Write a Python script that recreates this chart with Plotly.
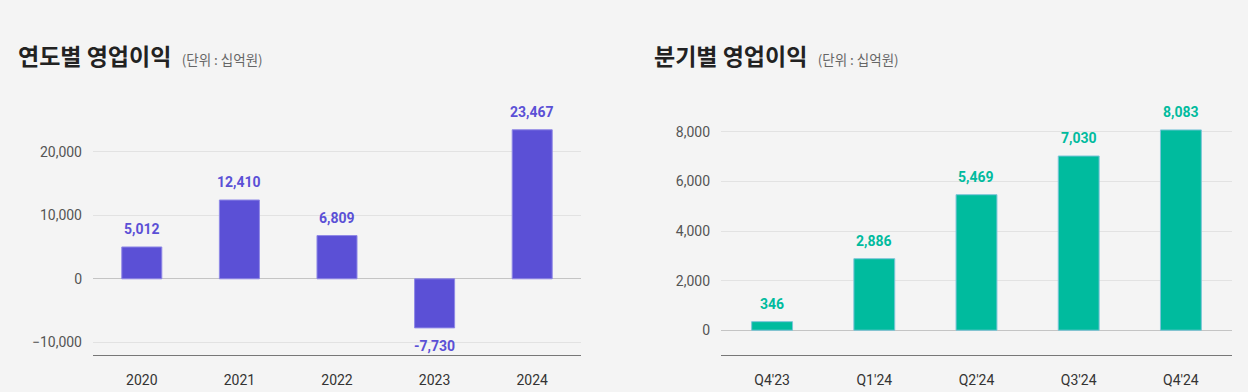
import plotly.graph_objects as go

years = ["2020", "2021", "2022", "2023", "2024"]
annual_profit = [5012, 12410, 6809, -7730, 23467]
quarters = ["Q4'23", "Q1'24", "Q2'24", "Q3'24", "Q4'24"]
quarterly_profit = [346, 2886, 5469, 7030, 8083]

left_ticks = [-10000, 0, 10000, 20000]
right_ticks = [0, 2000, 4000, 6000, 8000]

PURPLE = "#5b50d6"
TEAL = "#00bb9e"
BG = "#f4f4f4"

fig = go.Figure()
fig.add_trace(go.Bar(x=years, y=annual_profit, marker=dict(color=PURPLE, line=dict(color="#8f88e6", width=1)),
                     width=0.41, xaxis="x", yaxis="y", hoverinfo="skip"))
fig.add_trace(go.Bar(x=quarters, y=quarterly_profit, marker=dict(color=TEAL, line=dict(color="#7cc4d8", width=1)),
                     width=0.40, xaxis="x2", yaxis="y2", hoverinfo="skip"))

annotations = []
for i, v in enumerate(annual_profit):
    annotations.append(dict(x=i, y=v, xref="x", yref="y", text=f"{v:,}", showarrow=False,
                            yanchor="bottom" if v >= 0 else "top", yshift=8 if v >= 0 else -8,
                            font=dict(family="Roboto", size=14, color=PURPLE, weight="bold")))
for i, v in enumerate(quarterly_profit):
    annotations.append(dict(x=i, y=v, xref="x2", yref="y2", text=f"{v:,}", showarrow=False,
                            yanchor="bottom", yshift=8,
                            font=dict(family="Roboto", size=14, color=TEAL, weight="bold")))

sub = "&nbsp;&nbsp;<span style='font-size:13.5px;color:#666'>(단위 : 십억원)</span>"
annotations.append(dict(x=16/1248, y=1-55/392, xref="paper", yref="paper", xanchor="left", yanchor="middle",
                        showarrow=False, text="<b>연도별 영업이익</b>" + sub,
                        font=dict(family="Noto Sans CJK KR", size=23, color="#222")))
annotations.append(dict(x=652/1248, y=1-55/392, xref="paper", yref="paper", xanchor="left", yanchor="middle",
                        showarrow=False, text="<b>분기별 영업이익</b>" + sub,
                        font=dict(family="Noto Sans CJK KR", size=23, color="#222")))

ydom = [37/392, 291/392]
axis_common = dict(showgrid=True, gridcolor="#e2e2e2", gridwidth=1, zeroline=True, zerolinecolor="#c4c4c4",
                   zerolinewidth=1, tickfont=dict(family="Roboto", size=14, color="#555"),
                   tickformat=",", ticks="", showline=False, ticklabelstandoff=10)
xaxis_common = dict(showgrid=False, showline=True, linecolor="#777", linewidth=1, ticks="",
                    tickfont=dict(family="Roboto", size=14, color="#333"), ticklabelstandoff=12,
                    type="category", range=[-0.5, 4.5])

fig.update_layout(
    width=1248, height=392,
    margin=dict(l=0, r=0, t=0, b=0),
    paper_bgcolor=BG, plot_bgcolor=BG,
    showlegend=False,
    annotations=annotations,
    xaxis=dict(domain=[93/1248, 581/1248], anchor="y", **xaxis_common),
    yaxis=dict(domain=ydom, anchor="x", range=[-12000, 28000], tickvals=left_ticks, **axis_common),
    xaxis2=dict(domain=[721/1248, 1232/1248], anchor="y2", **xaxis_common),
    yaxis2=dict(domain=ydom, anchor="x2", range=[-1000, 9250], tickvals=right_ticks, **axis_common),
)

fig.write_html("out.html", config={"displayModeBar": False},
               post_script="document.body.style.margin='0';document.body.style.background='#f4f4f4';")
